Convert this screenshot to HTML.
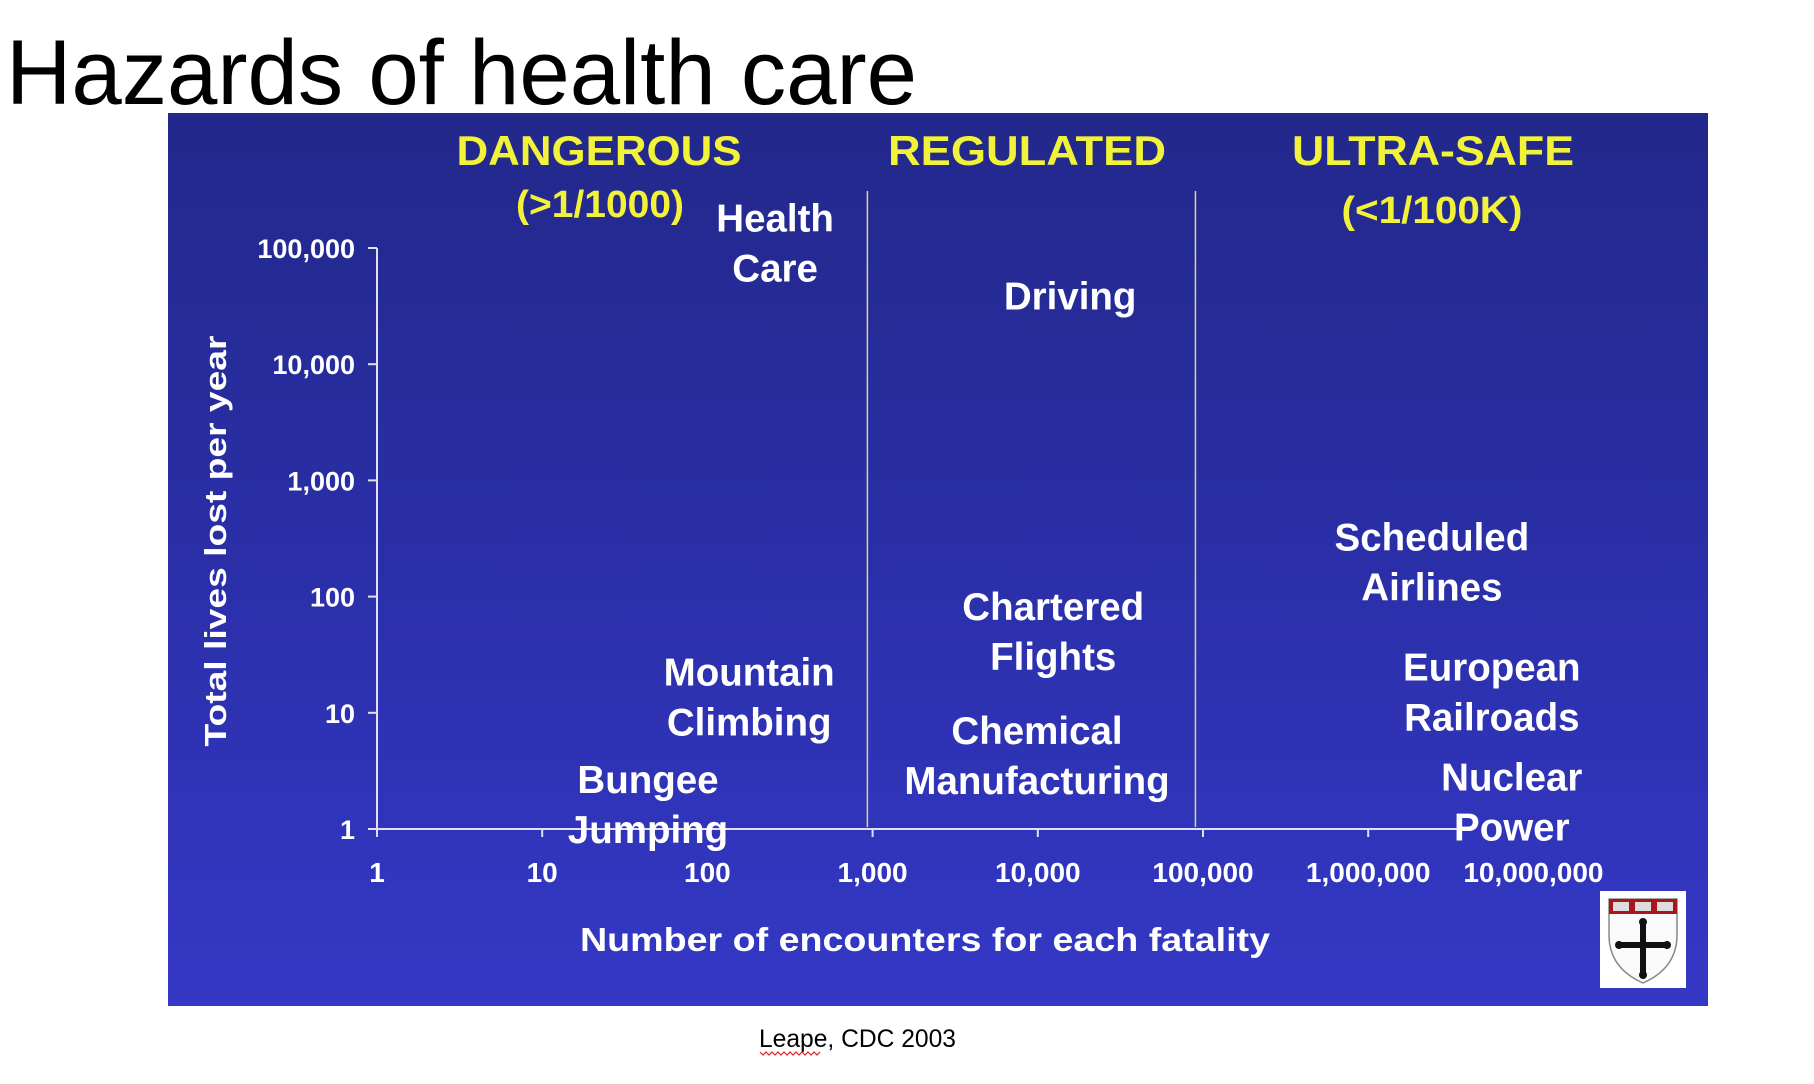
<!DOCTYPE html>
<html><head><meta charset="utf-8"><style>
html,body{margin:0;padding:0;background:#fff;width:1814px;height:1084px;overflow:hidden}
svg{display:block}
text{font-family:"Liberation Sans",Arial,sans-serif}
</style></head><body>
<svg id="chart" width="1814" height="1084" viewBox="0 0 1814 1084">
<defs>
<linearGradient id="bg" x1="0" y1="0" x2="0" y2="1">
<stop offset="0" stop-color="#22288a"/>
<stop offset="0.5" stop-color="#2a2fa8"/>
<stop offset="1" stop-color="#3438c6"/>
</linearGradient>
</defs>
<text x="6" y="104" font-size="92" fill="#000" textLength="911" lengthAdjust="spacingAndGlyphs">Hazards of health care</text>
<rect x="168" y="113" width="1540" height="893" fill="url(#bg)"/>
<g id="plot"></g>
<text x="599" y="165" font-size="42" font-weight="bold" fill="#f2f238" text-anchor="middle" textLength="285" lengthAdjust="spacingAndGlyphs">DANGEROUS</text>
<text x="600" y="217" font-size="38" font-weight="bold" fill="#f2f238" text-anchor="middle" textLength="168" lengthAdjust="spacingAndGlyphs">(&gt;1/1000)</text>
<text x="1027" y="165" font-size="42" font-weight="bold" fill="#f2f238" text-anchor="middle" textLength="278" lengthAdjust="spacingAndGlyphs">REGULATED</text>
<text x="1433" y="165" font-size="42" font-weight="bold" fill="#f2f238" text-anchor="middle" textLength="282" lengthAdjust="spacingAndGlyphs">ULTRA-SAFE</text>
<text x="1432" y="223" font-size="38" font-weight="bold" fill="#f2f238" text-anchor="middle" textLength="181" lengthAdjust="spacingAndGlyphs">(&lt;1/100K)</text>
<text transform="translate(226,541) rotate(-90)" font-size="31" font-weight="bold" fill="#fff" text-anchor="middle" textLength="411" lengthAdjust="spacingAndGlyphs">Total lives lost per year</text>
<text x="925" y="951" font-size="33" font-weight="bold" fill="#fff" text-anchor="middle" textLength="690" lengthAdjust="spacingAndGlyphs">Number of encounters for each fatality</text>
<g>
<rect x="1600" y="891" width="86" height="97" fill="#fff"/>
<path d="M1609 899 H1677 V935 Q1677 968 1643 983 Q1609 968 1609 935 Z" fill="#fafafa" stroke="#888" stroke-width="1.5"/>
<rect x="1609" y="899" width="68" height="15" fill="#a8161c"/>
<rect x="1613" y="902" width="16" height="9" fill="#ddd"/><rect x="1635" y="902" width="16" height="9" fill="#ddd"/><rect x="1657" y="902" width="16" height="9" fill="#ddd"/>
<rect x="1640" y="921" width="6" height="55" fill="#111"/>
<rect x="1618" y="942" width="50" height="6" fill="#111"/>
<circle cx="1643" cy="922" r="4" fill="#111"/><circle cx="1643" cy="975" r="4" fill="#111"/>
<circle cx="1619" cy="945" r="4" fill="#111"/><circle cx="1667" cy="945" r="4" fill="#111"/>
</g>
<text x="759" y="1047" font-size="25" fill="#000" textLength="197" lengthAdjust="spacingAndGlyphs">Leape, CDC  2003</text>
<path d="M760 1052 l3 3 l3 -3 l3 3 l3 -3 l3 3 l3 -3 l3 3 l3 -3 l3 3 l3 -3 l3 3 l3 -3 l3 3 l3 -3 l3 3 l3 -3 l3 3 l3 -3 l3 3 l3 -3" fill="none" stroke="#d22" stroke-width="1.2"/>
</svg>
<script>
const xTicks = [1, 10, 100, 1000, 10000, 100000, 1000000, 10000000];
const xTickLabels = ["1", "10", "100", "1,000", "10,000", "100,000", "1,000,000", "10,000,000"];
const yTicks = [1, 10, 100, 1000, 10000, 100000];
const yTickLabels = ["1", "10", "100", "1,000", "10,000", "100,000"];
const zoneBounds = [930, 90000];
const activityLines1 = ["Health", "Driving", "Mountain", "Bungee", "Chartered", "Chemical", "Scheduled", "European", "Nuclear"];
const activityLines2 = ["Care", "", "Climbing", "Jumping", "Flights", "Manufacturing", "Airlines", "Railroads", "Power"];
const encounters = [257, 15700, 179, 43.7, 12400, 9890, 2430000, 5600000, 7400000];
const livesLost = [84500, 29500, 10.5, 1.24, 38.3, 3.28, 152, 11.6, 1.31];

const NS = "http://www.w3.org/2000/svg";
const X0 = 377, XD = 165.2, Y0 = 829, YD = 116.2;
function xs(v){ return X0 + Math.log10(v) * XD; }
function ys(v){ return Y0 - Math.log10(v) * YD; }
const g = document.getElementById("plot");
function mk(tag, attrs){ const e = document.createElementNS(NS, tag); for (const k in attrs) e.setAttribute(k, attrs[k]); g.appendChild(e); return e; }

zoneBounds.forEach((b, i) => {
  const l = mk("line", {x1: xs(b), x2: xs(b), y1: 191, y2: Y0 - 2, stroke: "#d8d88a", "stroke-width": 1.5});
  
  
});

const ya = mk("line", {x1: X0, x2: X0, y1: ys(100000), y2: Y0 + 8, stroke: "#e0e0f0", "stroke-width": 2});


const xa = mk("line", {x1: 368, x2: 1464, y1: Y0, y2: Y0, stroke: "#e0e0f0", "stroke-width": 2});



yTicks.forEach((v, i) => {
  const t = mk("line", {x1: 368, x2: X0, y1: ys(v), y2: ys(v), stroke: "#e0e0f0", "stroke-width": 2});
  
  
  const tx = mk("text", {x: 355, y: ys(v) + 10, "font-size": 27, "font-weight": "bold", fill: "#fff", "text-anchor": "end"});
  tx.textContent = yTickLabels[i];
  
  
});
xTicks.forEach((v, i) => {
  if (i > 0 && i < 7) {
    const t = mk("line", {x1: xs(v), x2: xs(v), y1: Y0, y2: Y0 + 8, stroke: "#e0e0f0", "stroke-width": 2});
    
    
  }
  const tx = mk("text", {x: xs(v), y: 882, "font-size": 28, "font-weight": "bold", fill: "#fff", "text-anchor": "middle"});
  tx.textContent = xTickLabels[i];
  
  
});

activityLines1.forEach((name, i) => {
  const cx = xs(encounters[i]), cy = ys(livesLost[i]);
  const two = activityLines2[i] !== "";
  const t = mk("text", {x: cx, y: two ? cy - 25 : cy, "font-size": 38.5, "font-weight": "bold", fill: "#fff", "text-anchor": "middle"});
  
  
  const s1 = document.createElementNS(NS, "tspan");
  s1.setAttribute("x", cx);
  s1.textContent = name;
  t.appendChild(s1);
  if (two) {
    const s2 = document.createElementNS(NS, "tspan");
    s2.setAttribute("x", cx);
    s2.setAttribute("dy", 50);
    s2.textContent = activityLines2[i];
    t.appendChild(s2);
  }
});
</script>
</body></html>
